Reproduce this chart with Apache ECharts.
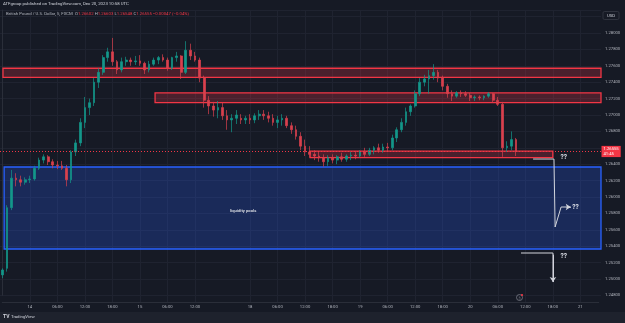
<!DOCTYPE html>
<html><head><meta charset="utf-8">
<script src="https://cdn.jsdelivr.net/npm/echarts@6/dist/echarts.min.js"></script>
<style>html,body{margin:0;padding:0;background:#161a25;overflow:hidden}#c{width:625px;height:323px}</style>
</head><body><div id="c"></div>
<script>
// ---- hourly OHLC (GBPUSD, FXCM), Dec 13 18:00 -> Dec 20 10:00 UTC ----
const hourOpen = [
1.2505,1.2513,1.2587,1.2623,1.2621,1.2618,1.2621,1.2622,1.2635,1.2645,
1.2649,1.2643,1.2639,1.2638,1.2635,1.2621,1.2655,1.2666,1.2691,1.2709,
1.2715,1.2740,1.2752,1.2770,1.2777,1.2765,1.2755,1.2765,1.2767,1.2765,
1.2766,1.2763,1.2755,1.2762,1.2767,1.2770,1.2767,1.2757,1.2770,1.2772,
1.2752,1.2779,1.2772,1.2767,1.2745,1.2718,1.2711,1.2706,1.2709,1.2699,
1.2694,1.2696,1.2696,1.2694,1.2696,1.2694,1.2699,1.2701,1.2699,1.2696,
1.2691,1.2694,1.2696,1.2687,1.2682,1.2674,1.2662,1.2655,1.2652,1.2650,
1.2648,1.2643,1.2648,1.2645,1.2649,1.2646,1.2650,1.2651,1.2650,1.2655,
1.2652,1.2657,1.2660,1.2657,1.2661,1.2660,1.2672,1.2682,1.2691,1.2704,
1.2711,1.2726,1.2740,1.2744,1.2748,1.2752,1.2745,1.2735,1.2726,1.2723,
1.2727,1.2726,1.2724,1.2721,1.2722,1.2721,1.2723,1.2726,1.2718,1.2713,
1.2660,1.2662,1.2670];
const hourClose = [
1.2511,1.2587,1.2623,1.2621,1.2618,1.2621,1.2622,1.2635,1.2645,1.2649,
1.2643,1.2639,1.2638,1.2635,1.2621,1.2655,1.2666,1.2691,1.2709,1.2715,
1.2740,1.2752,1.2770,1.2777,1.2765,1.2755,1.2765,1.2767,1.2765,1.2766,
1.2763,1.2755,1.2762,1.2767,1.2770,1.2767,1.2757,1.2770,1.2772,1.2752,
1.2779,1.2772,1.2767,1.2745,1.2718,1.2711,1.2706,1.2709,1.2699,1.2694,
1.2696,1.2700,1.2694,1.2696,1.2694,1.2699,1.2701,1.2699,1.2696,1.2691,
1.2694,1.2696,1.2687,1.2682,1.2674,1.2662,1.2655,1.2652,1.2650,1.2648,
1.2643,1.2648,1.2645,1.2649,1.2646,1.2650,1.2651,1.2650,1.2655,1.2652,
1.2657,1.2660,1.2657,1.2661,1.2660,1.2672,1.2682,1.2691,1.2704,1.2711,
1.2726,1.2740,1.2744,1.2748,1.2752,1.2745,1.2735,1.2726,1.2723,1.2727,
1.2726,1.2724,1.2721,1.2722,1.2721,1.2723,1.2726,1.2718,1.2713,1.2660,
1.2662,1.2670,1.26555];
const hourLow = [
1.2501,1.2509,1.2584,1.2613,1.2613,1.2615,1.2617,1.2620,1.2633,1.2641,
1.2639,1.2635,1.2634,1.2633,1.2613,1.2617,1.2650,1.2662,1.2684,1.2700,
1.2711,1.2733,1.2749,1.2765,1.2760,1.2750,1.2752,1.2760,1.2760,1.2761,
1.2760,1.2750,1.2752,1.2760,1.2762,1.2765,1.2754,1.2755,1.2765,1.2744,
1.2750,1.2767,1.2765,1.2740,1.2709,1.2701,1.2698,1.2696,1.2694,1.2682,
1.2679,1.2689,1.2689,1.2689,1.2689,1.2690,1.2694,1.2694,1.2691,1.2687,
1.2684,1.2687,1.2684,1.2677,1.2670,1.2657,1.2650,1.2648,1.2645,1.2643,
1.2637,1.2638,1.2641,1.2640,1.2643,1.2643,1.2645,1.2646,1.2648,1.2649,
1.2650,1.2652,1.2654,1.2654,1.2655,1.2657,1.2667,1.2679,1.2687,1.2699,
1.2709,1.2723,1.2735,1.2726,1.2743,1.2740,1.2730,1.2721,1.2717,1.2721,
1.2722,1.2722,1.2717,1.2717,1.2718,1.2718,1.2721,1.2715,1.2711,1.2649,
1.2655,1.2657,1.2650];
const hourHigh = [
1.2513,1.2590,1.2633,1.2629,1.2626,1.2624,1.2626,1.2638,1.2648,1.2652,
1.2651,1.2646,1.2644,1.2644,1.2639,1.2657,1.2670,1.2696,1.2722,1.2720,
1.2745,1.2757,1.2773,1.2782,1.2794,1.2767,1.2770,1.2771,1.2770,1.2772,
1.2773,1.2765,1.2766,1.2770,1.2772,1.2774,1.2770,1.2771,1.2777,1.2773,
1.2790,1.2787,1.2777,1.2770,1.2748,1.2723,1.2716,1.2717,1.2715,1.2706,
1.2701,1.2706,1.2701,1.2699,1.2701,1.2702,1.2706,1.2706,1.2704,1.2701,
1.2699,1.2701,1.2699,1.2691,1.2687,1.2679,1.2670,1.2662,1.2657,1.2655,
1.2652,1.2651,1.2652,1.2651,1.2654,1.2652,1.2655,1.2656,1.2657,1.2660,
1.2660,1.2662,1.2665,1.2665,1.2666,1.2676,1.2685,1.2696,1.2709,1.2713,
1.2730,1.2745,1.2749,1.2755,1.2762,1.2755,1.2748,1.2738,1.2730,1.2729,
1.2730,1.2729,1.2727,1.2724,1.2724,1.2724,1.2728,1.2727,1.2722,1.2716,
1.2668,1.2680,1.2672];

// trading sessions (day, first hour, last hour) -> hourly categories
const sessions = [['13',18,23],['14',0,23],['15',0,21],['17',22,23],['18',0,23],['19',0,23],['20',0,23],['21',0,4]];

// time-axis ticks
const tickCats   = ['14 00:00','14 06:00','14 12:00','14 18:00','15 00:00','15 06:00','15 12:00','18 00:00','18 06:00','18 12:00','18 18:00','19 00:00','19 06:00','19 12:00','19 18:00','20 00:00','20 06:00','20 12:00','20 18:00','21 00:00'];
const tickLabels = ['14','06:00','12:00','18:00','15','06:00','12:00','18','06:00','12:00','18:00','19','06:00','12:00','18:00','20','06:00','12:00','18:00','21'];

// price axis
const priceMin = 1.248, priceStep = 0.002;

// last bar (header)
const lastO = 1.26602, lastH = 1.26603, lastL = 1.26548, lastC = 1.26555, lastChg = -0.00047, lastPct = -0.04;

// drawn zones (hour index from/to, price top/bottom)
const zoneFrom   = [0.15, 33.3, 67.1, 0.4];
const zoneTo     = [130.5, 130.5, 120.0, 130.5];
const zoneTop    = [1.2757, 1.2727, 1.2656, 1.26366];
const zoneBottom = [1.2746, 1.2715, 1.2648, 1.25366];

// drawn arrows (hour index, price)
const arrow1X = [115.7, 120.25, 120.5, 121.8, 123.9];
const arrow1P = [1.26463, 1.26463, 1.25634, 1.25878, 1.25878];
const arrow2X = [113.06, 120.03, 120.03];
const arrow2P = [1.25317, 1.25317, 1.24963];

// text notes (hour index, price)
const noteX = [122.4, 124.95, 122.4];
const noteP = [1.26488, 1.25878, 1.2528];
const liqX = 52.5, liqP = 1.25829;

// ------------------------------------------------------------------
const categories = [];
sessions.forEach(([d, a, b]) => { for (let h = a; h <= b; h++) categories.push(d + ' ' + String(h).padStart(2, '0') + ':00'); });
const tickMap = {}; tickCats.forEach((c, i) => tickMap[c] = tickLabels[i]);
const candles = hourOpen.map((o, i) => [o, hourClose[i], hourLow[i], hourHigh[i]]);

const BG = '#161a25', GRIDC = '#1f2330', TXT = '#b2b5be', UP = '#13978a', DOWN = '#f23645', CDOWN = '#d9404d', ANN = '#d1d4dc';
const FONT = 'Roboto, "Noto Sans", "DejaVu Sans", sans-serif';
const W = 625, H = 323;
const paneTop = 10, paneRight = 24, yBottomPx = 295.4;
const pxPerUnit = 8200;
const priceMax = priceMin + (yBottomPx - paneTop) / pxPerUnit;
const nCat = categories.length; // 131
const band = (W - paneRight) / nCat;

const chart = echarts.init(document.getElementById('c'), null, {renderer: 'canvas', width: W, height: H});

const zoneStyles = [
  {color: 'rgba(242,54,69,0.24)', borderColor: DOWN, borderWidth: 1.3},
  {color: 'rgba(242,54,69,0.24)', borderColor: DOWN, borderWidth: 1.3},
  {color: 'rgba(242,54,69,0.24)', borderColor: DOWN, borderWidth: 1.3},
  {color: 'rgba(41,98,255,0.24)', borderColor: '#2962ff', borderWidth: 1.3}
];
const zoneData = zoneFrom.map((f, i) => [
  {coord: [f, zoneTop[i]], itemStyle: zoneStyles[i]},
  {coord: [zoneTo[i], zoneBottom[i]]}
]);

const noteStyle = {show: true, position: 'inside', color: '#e0e3eb', fontSize: 6.5, fontWeight: 'bold', fontFamily: FONT, formatter: '??'};

const option = {
  backgroundColor: BG,
  animation: false,
  textStyle: {fontFamily: FONT},
  title: [
    {text: 'ATFgroup published on TradingView.com, Dec 20, 2023 10:58 UTC', left: 3, top: 2, padding: 0,
     textStyle: {fontSize: 4.3, color: '#d1d4dc', fontWeight: 'normal', fontFamily: FONT}},
    {text: '{g|British Pound / U.S. Dollar, 5, FXCM}  {g|O}{r|' + lastO.toFixed(5) + '} {g|H}{r|' + lastH.toFixed(5) +
           '} {g|L}{r|' + lastL.toFixed(5) + '} {g|C}{r|' + lastC.toFixed(5) + '} {r|\u2212' + Math.abs(lastChg).toFixed(5) +
           ' (\u2212' + Math.abs(lastPct).toFixed(2) + '%)}',
     left: 6, top: 12, padding: 0,
     textStyle: {fontSize: 4.3, fontWeight: 'normal', fontFamily: FONT,
       rich: {g: {color: '#b2b5be', fontSize: 4.3, fontFamily: FONT}, r: {color: DOWN, fontSize: 4.3, fontFamily: FONT}}}}
  ],
  grid: [
    {left: 0, right: paneRight, top: paneTop, bottom: H - yBottomPx, containLabel: false},
    {left: band / 2, right: paneRight + band / 2, top: paneTop, bottom: 21, containLabel: false}
  ],
  xAxis: [
    {gridIndex: 0, type: 'category', data: categories, boundaryGap: true, show: false},
    {gridIndex: 0, type: 'value', min: -0.5, max: nCat - 0.5, show: false},
    {gridIndex: 1, type: 'category', data: categories, boundaryGap: false,
     axisLine: {show: true, lineStyle: {color: '#2a2e39', width: 1}},
     axisTick: {show: false},
     axisLabel: {interval: (i, v) => tickMap[v] !== undefined, formatter: v => tickMap[v] || '',
                 color: TXT, fontSize: 4.2, margin: 2.5, fontFamily: FONT, hideOverlap: false},
     splitLine: {show: true, interval: (i, v) => tickMap[v] !== undefined, lineStyle: {color: GRIDC, width: 1}}}
  ],
  yAxis: [
    {gridIndex: 0, type: 'value', position: 'right', min: priceMin, max: priceMax, interval: priceStep, scale: true,
     axisLine: {show: true, lineStyle: {color: '#2a2e39'}}, axisTick: {show: false},
     axisLabel: {color: TXT, fontSize: 4.2, margin: 4, fontFamily: FONT, showMaxLabel: false,
                 formatter: v => (v > 1.2805 ? '' : v.toFixed(5))},
     splitLine: {show: true, lineStyle: {color: GRIDC, width: 1}}},
    {gridIndex: 1, type: 'value', min: 0, max: 1, show: false}
  ],
  series: [
    {type: 'candlestick', name: 'GBPUSD', xAxisIndex: 0, yAxisIndex: 0, data: candles, barWidth: 2.2,
     itemStyle: {color: UP, color0: CDOWN, borderColor: UP, borderColor0: CDOWN, borderWidth: 0.7},
     z: 2,
     markLine: {silent: true, symbol: 'none', animation: false, precision: 5,
       data: [{yAxis: lastC}],
       lineStyle: {type: [1, 2], color: DOWN, width: 1},
       label: {show: true, position: 'end', distance: 0.5, formatter: lastC.toFixed(5) + '\n41:45',
               backgroundColor: DOWN, color: '#ffffff', fontSize: 4.2, lineHeight: 4.6, padding: [1, 2], fontFamily: FONT}}},
    {type: 'line', name: 'arrow1', xAxisIndex: 1, yAxisIndex: 0, symbol: 'none', silent: true, z: 5,
     data: arrow1X.map((x, i) => [x, arrow1P[i]]),
     lineStyle: {color: ANN, width: 1},
     markArea: {silent: true, data: zoneData, label: {show: false}},
     markLine: {silent: true, symbol: ['none', 'arrow'], symbolSize: 5, animation: false, precision: 5,
       lineStyle: {color: ANN, width: 1, type: 'solid'}, label: {show: false},
       data: [
         [{coord: [arrow1X[3] + 1.2, arrow1P[4]]}, {coord: [arrow1X[4], arrow1P[4]]}],
         [{coord: [arrow2X[1], arrow2P[1] - 0.0002]}, {coord: [arrow2X[2], arrow2P[2]]}]
       ]},
     markPoint: {silent: true, symbol: 'rect', symbolSize: 1, itemStyle: {color: 'rgba(0,0,0,0)'}, animation: false,
       data: [
         {coord: [noteX[0], noteP[0]], label: noteStyle},
         {coord: [noteX[1], noteP[1]], label: noteStyle},
         {coord: [noteX[2], noteP[2]], label: noteStyle},
         {coord: [liqX, liqP], label: {show: true, position: 'inside', formatter: 'liquidity pools', color: '#d1d4dc',
                                       fontSize: 4.2, fontWeight: 'bold', fontFamily: FONT}}
       ]}},
    {type: 'line', name: 'arrow2', xAxisIndex: 1, yAxisIndex: 0, symbol: 'none', silent: true, z: 5,
     data: arrow2X.map((x, i) => [x, arrow2P[i]]),
     lineStyle: {color: ANN, width: 1}}
  ],
  graphic: [
    {type: 'rect', shape: {x: 0, y: 312, width: W, height: 11}, style: {fill: '#1e222d'}, z: 10},
    {type: 'text', left: 3, top: 314.5, z: 11,
     style: {text: 'TV', fill: '#d1d4dc', font: 'bold 5px ' + FONT}},
    {type: 'text', left: 11, top: 315, z: 11,
     style: {text: 'TradingView', fill: '#d1d4dc', font: '4.3px ' + FONT}},
    {type: 'rect', shape: {x: 603, y: 11.5, width: 16, height: 8, r: 1.5}, style: {fill: BG, stroke: '#363a45', lineWidth: 0.8}, z: 10},
    {type: 'text', x: 611, y: 15.5, z: 11,
     style: {text: 'USD', fill: '#d1d4dc', font: '4.2px ' + FONT, align: 'center', verticalAlign: 'middle'}},
    {type: 'circle', shape: {cx: 519.5, cy: 297.5, r: 3}, style: {fill: 'none', stroke: '#787b86', lineWidth: 0.8}, z: 10},
    {type: 'text', x: 519.5, y: 297.6, z: 11,
     style: {text: '\u03DF', fill: '#787b86', font: '4px ' + FONT, align: 'center', verticalAlign: 'middle'}},
    {type: 'circle', shape: {cx: 522, cy: 295, r: 1.1}, style: {fill: DOWN}, z: 11}
  ]
};
chart.setOption(option);
</script>
</body></html>
